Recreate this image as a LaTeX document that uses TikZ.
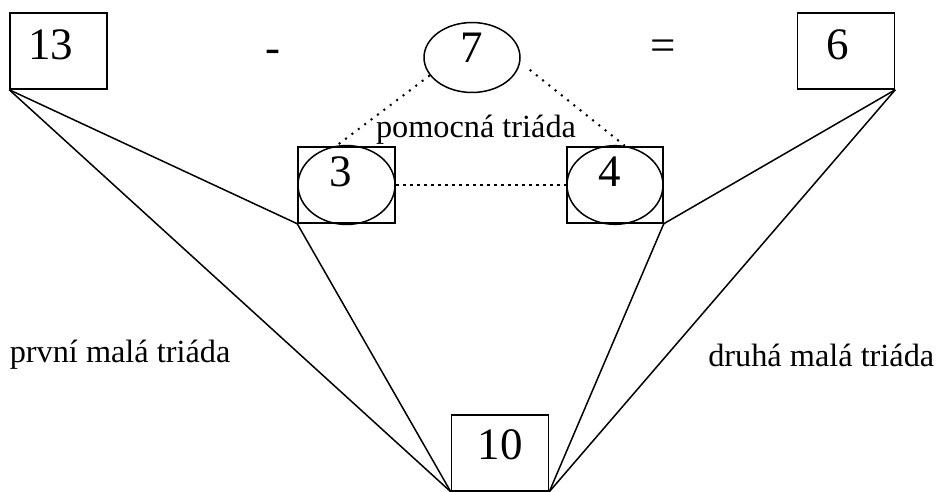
\documentclass[tikz,border=0pt]{standalone}
\usepackage{fontspec}
\setmainfont{Liberation Serif}
\usetikzlibrary{shapes.geometric}
\begin{document}
\begin{tikzpicture}[x=1pt,y=-1pt,line width=1.5pt,
  numfont/.style={font=\fontsize{45}{50}\selectfont},
  lblfont/.style={font=\fontsize{32.3}{36}\selectfont},
  numbox/.style={draw,rectangle,inner sep=0pt,minimum width=97pt,minimum height=76pt,numfont},
  numell/.style={draw,ellipse,inner sep=0pt,numfont},
  dotline/.style={line width=2pt,dash pattern=on 2pt off 6pt},
  dashline/.style={line width=1.5pt,dash pattern=on 3.5pt off 3.5pt}]
\useasboundingbox (0,0) rectangle (937,491);
% top row
\node[numbox] (b13) at (58.5,51) {\raisebox{12pt}{\hspace*{-16pt}13}};
\node[numfont] (minus) at (273,56) {-};
\node[numell,minimum width=96pt,minimum height=65pt] (e7) at (472,57.5) {\raisebox{20pt}{7}};
\node[numfont] (eq) at (663,50) {=};
\node[numbox] (b6) at (846,51) {\raisebox{12pt}{\hspace*{-16pt}6}};
% middle boxes with ellipses
\node[draw,rectangle,inner sep=0pt,minimum width=97pt,minimum height=76pt] (b3) at (346.5,185) {};
\node[numell,minimum width=97pt,minimum height=76pt] (e3) at (346.5,185) {\raisebox{26pt}{\hspace*{-11pt}3}};
\node[draw,rectangle,inner sep=0pt,minimum width=96pt,minimum height=76pt] (b4) at (615,185) {};
\node[numell,minimum width=96pt,minimum height=76pt] (e4) at (615,185) {\raisebox{26pt}{\hspace*{-11pt}4}};
% bottom box
\node[numbox] (b10) at (500,453) {\raisebox{16pt}{10}};
% labels
\node[lblfont] (pom) at (476,130) {pomocná triáda};
\node[lblfont,anchor=west,inner sep=0pt] (prv) at (9,355) {první malá triáda};
\node[lblfont,anchor=east,inner sep=0pt] (dru) at (935,355) {druhá malá triáda};
% dotted/dashed connectors
\draw[dotline] (e7.203) -- (e3.104);
\draw[dotline] ([shift={(12pt,0pt)}]e7.-15) -- (e4.76);
\draw[dashline] (e3.east) -- (e4.west);
% solid triads
\draw (b13.south west) -- (b3.south west);
\draw (b13.south west) -- (b10.south west);
\draw (b3.south west) -- (b10.south west);
\draw (b6.south east) -- (b4.south east);
\draw (b6.south east) -- (b10.south east);
\draw (b4.south east) -- (b10.south east);
\end{tikzpicture}
\end{document}
